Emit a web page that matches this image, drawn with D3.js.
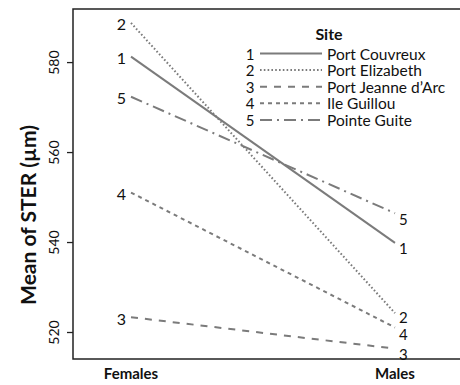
<!DOCTYPE html>
<html>
<head>
<meta charset="utf-8">
<script src="https://cdn.jsdelivr.net/npm/d3@7"></script>
<style>
  html, body { margin: 0; padding: 0; background: #fff; }
  svg { display: block; }
  text { font-family: Lato, "Open Sans", sans-serif; fill: #111; }
</style>
</head>
<body>
<svg id="chart" width="460" height="385"></svg>
<script>
// Mean STER per site, by sex
const categories = ["Females", "Males"];
const siteIds = ["1", "2", "3", "4", "5"];
const siteNames = ["Port Couvreux", "Port Elizabeth", "Port Jeanne d\u2019Arc", "Ile Guillou", "Pointe Guite"];
const femaleMeans = [581.2, 588.7, 523.3, 551.0, 572.3];
const maleMeans = [539.8, 524.2, 516.3, 521.0, 546.4];
const yTicks = [520, 540, 560, 580];

// Line styles per site: solid, dotted, long dash, short dash, dash-dot
const dashes = [null, "1.6,2.2", "7,7", "4,4", "12,5,2,5"];
const lineColor = "#7b7b7b";

const svg = d3.select("#chart");
const plot = { left: 73, top: 9, right: 470, bottom: 359 };

const x = d3.scalePoint().domain(categories).range([131, 395]);
const y = d3.scaleLinear().domain([514, 591.8]).range([plot.bottom, plot.top]);

// Frame (right edge lies outside the view)
svg.append("rect")
  .attr("x", plot.left).attr("y", plot.top)
  .attr("width", plot.right - plot.left).attr("height", plot.bottom - plot.top)
  .attr("fill", "none").attr("stroke", "#222").attr("stroke-width", 1.5);

// Y axis
const yAxis = svg.append("g")
  .attr("transform", `translate(${plot.left},0)`)
  .call(d3.axisLeft(y).tickValues(yTicks).tickSize(6).tickFormat(d3.format("d")));
yAxis.select(".domain").remove();
yAxis.selectAll(".tick line").attr("stroke", "#222").attr("stroke-width", 1.3);
yAxis.selectAll(".tick text")
  .attr("x", 0).attr("dy", null)
  .attr("transform", "translate(-20,0) rotate(-90)")
  .attr("text-anchor", "middle")
  .attr("dominant-baseline", "central")
  .style("font-size", "14px")
  .style("font-family", "Lato, sans-serif")
  .attr("fill", "#111");

// Y axis title
svg.append("text")
  .attr("transform", "translate(27,215) rotate(-90)")
  .attr("text-anchor", "middle")
  .attr("dominant-baseline", "central")
  .style("font-size", "21px").style("font-weight", "bold")
  .text("Mean of STER (\u00b5m)");

// X category labels
svg.selectAll(".xlab").data(categories).enter().append("text")
  .attr("class", "xlab")
  .attr("x", d => x(d)).attr("y", 379)
  .attr("text-anchor", "middle")
  .style("font-size", "15px").style("font-weight", "bold")
  .text(d => d);

// Site lines
const sites = siteIds.map((id, i) => ({
  id, name: siteNames[i], dash: dashes[i],
  values: [femaleMeans[i], maleMeans[i]]
}));

const line = d3.line().x((d, i) => x(categories[i])).y(d => y(d));

svg.selectAll(".site").data(sites).enter().append("path")
  .attr("class", "site")
  .attr("d", d => line(d.values))
  .attr("fill", "none")
  .attr("stroke", lineColor)
  .attr("stroke-width", 2)
  .attr("stroke-dasharray", d => d.dash);

// End labels
svg.selectAll(".lab-f").data(sites).enter().append("text")
  .attr("x", x(categories[0]) - 5).attr("y", d => y(d.values[0]) + 1)
  .attr("text-anchor", "end").attr("dominant-baseline", "central")
  .style("font-size", "16px")
  .text(d => d.id);

// Right-hand labels sit just below each line end; 2 and 4 are nudged apart
const rightOffset = { "1": 5, "2": 4, "3": 5, "4": 6, "5": 6 };
svg.selectAll(".lab-m").data(sites).enter().append("text")
  .attr("x", x(categories[1]) + 4).attr("y", d => y(d.values[1]) + rightOffset[d.id])
  .attr("text-anchor", "start").attr("dominant-baseline", "central")
  .style("font-size", "15px")
  .text(d => d.id);

// Legend
const legend = svg.append("g");
legend.append("text")
  .attr("x", 329).attr("y", 33)
  .attr("text-anchor", "middle").attr("dominant-baseline", "central")
  .style("font-size", "16px").style("font-weight", "bold")
  .text("Site");

const rows = legend.selectAll(".row").data(sites).enter().append("g")
  .attr("transform", (d, i) => `translate(0,${53.5 + i * 16.6})`);
rows.append("text")
  .attr("x", 250).attr("y", 0)
  .attr("text-anchor", "middle").attr("dominant-baseline", "central")
  .style("font-size", "15px")
  .text(d => d.id);
rows.append("line")
  .attr("x1", 260).attr("x2", 322).attr("y1", 0).attr("y2", 0)
  .attr("stroke", lineColor).attr("stroke-width", 2)
  .attr("stroke-dasharray", d => d.dash);
rows.append("text")
  .attr("x", 327).attr("y", 0)
  .attr("dominant-baseline", "central")
  .style("font-size", "15.5px")
  .text(d => d.name);
</script>
</body>
</html>
